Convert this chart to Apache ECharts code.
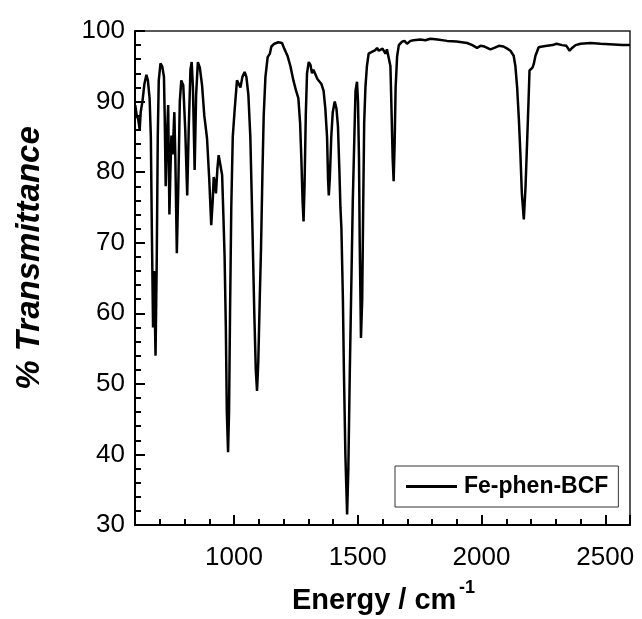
<!DOCTYPE html>
<html>
<head>
<meta charset="utf-8">
<title>Fe-phen-BCF IR</title>
<script src="https://cdn.jsdelivr.net/npm/echarts@6.0.0/dist/echarts.min.js"></script>
<style>
  html, body { margin: 0; padding: 0; background: #fff; }
  #chart { width: 642px; height: 619px; }
</style>
</head>
<body>
<div id="chart"></div>
<script>
// wavenumber (cm-1)
var energy = [601, 607, 613, 619, 623, 630, 638, 646, 652, 659, 664, 668, 673, 677, 683, 688, 692, 696, 703, 710,
	717, 720, 724, 728, 734, 739, 743, 747, 752, 759, 763, 769, 775, 781, 787, 795, 803, 811, 817, 824,
	829, 834, 841, 847, 854, 862, 871, 880, 891, 900, 908, 914, 918, 923, 927, 933, 938, 945, 952, 957,
	962, 967, 971, 976, 980, 984, 989, 995, 1003, 1012, 1020, 1026, 1034, 1043, 1050, 1058, 1066, 1072, 1077, 1082,
	1088, 1093, 1098, 1104, 1109, 1115, 1120, 1127, 1136, 1145, 1151, 1163, 1179, 1194, 1203, 1216, 1228, 1240, 1251, 1260,
	1267, 1272, 1277, 1281, 1285, 1290, 1295, 1302, 1309, 1315, 1321, 1329, 1337, 1345, 1353, 1362, 1369, 1376, 1380, 1383,
	1387, 1393, 1399, 1407, 1414, 1420, 1426, 1430, 1434, 1440, 1444, 1450, 1457, 1462, 1468, 1474, 1480, 1487, 1491, 1497,
	1501, 1505, 1508, 1513, 1518, 1522, 1526, 1531, 1537, 1544, 1555, 1563, 1571, 1578, 1585, 1592, 1600, 1605, 1612, 1618,
	1625, 1632, 1637, 1641, 1645, 1649, 1653, 1659, 1666, 1679, 1689, 1699, 1713, 1726, 1753, 1773, 1794, 1822, 1861, 1899,
	1942, 1963, 1982, 1996, 2012, 2036, 2052, 2070, 2089, 2104, 2117, 2130, 2137, 2144, 2151, 2157, 2163, 2171, 2178, 2184,
	2190, 2194, 2200, 2206, 2211, 2218, 2231, 2246, 2265, 2287, 2303, 2326, 2343, 2356, 2366, 2380, 2400, 2441, 2481, 2535,
	2570, 2600];
// % transmittance
var transmittance = [89.5, 88, 87.5, 86, 88.5, 90, 92.5, 93.8, 93, 90.5, 85, 72, 58, 66, 54, 68, 85, 93, 95.4, 95,
	93.5, 88, 78, 84, 89.5, 74, 80, 85.2, 82.5, 88.5, 82, 68.5, 78, 90, 93, 92.3, 86, 76.7, 86, 94.5,
	95.6, 92, 80.3, 91, 95.6, 94.8, 92.3, 88, 84.8, 79, 72.5, 76, 79.3, 78.5, 77, 80.5, 82.4, 81, 79.6, 74,
	68, 58, 46, 40.3, 46, 60, 75, 85, 89, 93, 93.2, 92, 93.5, 94.2, 93.5, 91, 85, 76, 68, 60,
	52, 49, 53, 62, 69, 80, 88, 93.5, 96.3, 96.8, 97.8, 98.2, 98.4, 98.3, 97.5, 96.5, 95, 93, 91.5, 90.5,
	87, 82, 76, 73, 78, 88, 94, 95.6, 95.2, 94, 94.5, 94.3, 93.2, 93, 92.5, 91.5, 89, 85, 79, 76.7,
	79, 85, 88.5, 90, 89, 86.5, 80, 75, 72, 62, 52, 40, 31.5, 38, 52, 64, 76, 86, 91.5, 92.8,
	90, 82, 70, 56.5, 62, 75, 87, 92, 95, 96.8, 97, 96.8, 97.3, 97.6, 97.2, 97, 97.5, 97.3, 96.8, 97.4,
	97.3, 95, 88, 82, 78.7, 84, 92, 96.4, 98, 98.5, 98.6, 98.2, 98.6, 98.7, 98.8, 98.7, 98.9, 98.8, 98.6, 98.5,
	98.3, 98, 97.6, 97.9, 97.8, 97.4, 97.6, 97.9, 97.8, 97.5, 97.2, 96.5, 95, 92, 87.5, 82.7, 77, 73.3, 78, 84,
	90, 94.4, 94.6, 94.8, 95.3, 96.5, 97.7, 97.8, 97.9, 98, 98.2, 98, 97.9, 97.2, 97.6, 98, 98.2, 98.3, 98.2, 98.1,
	98, 98];
var seriesName = 'Fe-phen-BCF';

var xMin = 600, xMax = 2600, xMajorStart = 1000;
var yMin = 30, yMax = 100;

var fontFam = 'Liberation Sans, Arial, Helvetica, sans-serif';
var points = [];
for (var i = 0; i < energy.length; i++) {
	points.push([energy[i], transmittance[i]]);
}

// 绘图区像素
var plotLeft = 135, plotRight = 12, plotTop = 31, plotBottom = 94;
var plotW = 642 - plotLeft - plotRight;
var plotH = 619 - plotTop - plotBottom;
// 长刻度用的第二个grid，从1000开始
var majorLeft = plotLeft + (xMajorStart - xMin) / (xMax - xMin) * plotW;

var myChart = echarts.init(document.getElementById('chart'));

var option = {
	animation: false,
	grid: [
		{ left: plotLeft, top: plotTop, right: plotRight, bottom: plotBottom },
		{ left: majorLeft, top: plotTop, right: plotRight, bottom: plotBottom }
	],
	legend: {
		left: 395,
		top: 466,
		orient: 'horizontal',
		padding: [9, 10, 9, 11],
		borderColor: '#333',
		borderWidth: 1,
		itemWidth: 51,
		itemHeight: 3,
		data: [{ name: seriesName, icon: 'rect' }],
		textStyle: { fontFamily: fontFam, fontSize: 23, fontWeight: 'bold', color: '#000', padding: [0, 0, 0, 2] }
	},
	xAxis: [
		{
			type: 'value', gridIndex: 0, min: xMin, max: xMax, interval: 100,
			splitLine: { show: false },
			axisLine: { show: true, onZero: false, lineStyle: { color: '#000', width: 2 } },
			axisTick: { show: true, inside: true, length: 6, lineStyle: { color: '#000', width: 2 } },
			axisLabel: {
				margin: 20, fontFamily: fontFam, fontSize: 26, color: '#000',
				formatter: function (v) { return v % 500 === 0 ? String(v) : ''; }
			}
		},
		{
			// 主刻度（长）
			type: 'value', gridIndex: 1, min: xMajorStart, max: xMax, interval: 500,
			splitLine: { show: false }, axisLabel: { show: false },
			axisLine: { show: false, onZero: false },
			axisTick: { show: true, inside: true, length: 10, lineStyle: { color: '#000', width: 2 } }
		}
	],
	yAxis: [
		{
			type: 'value', gridIndex: 0, min: yMin, max: yMax, interval: 10,
			splitLine: { show: false },
			axisLine: { show: true, onZero: false, lineStyle: { color: '#000', width: 2 } },
			axisTick: { show: true, inside: true, length: 10, lineStyle: { color: '#000', width: 2 } },
			minorTick: { show: true, splitNumber: 5, length: 6, lineStyle: { color: '#000', width: 2 } },
			axisLabel: { margin: 10, fontFamily: fontFam, fontSize: 26, color: '#000' }
		},
		{ type: 'value', gridIndex: 1, min: yMin, max: yMax, show: false }
	],
	graphic: [
		{
			// 上、右边框
			type: 'rect',
			shape: { x: plotLeft, y: plotTop, width: plotW, height: plotH },
			style: { fill: null, stroke: '#222', lineWidth: 1.5 },
			silent: true
		},
		{
			type: 'text',
			x: 30,
			y: 258,
			rotation: Math.PI / 2,
			style: {
				text: '% Transmittance',
				fontFamily: fontFam,
				fontSize: 33,
				fontWeight: 'bold',
				fontStyle: 'italic',
				fill: '#000',
				align: 'center',
				verticalAlign: 'middle'
			}
		},
		{
			type: 'text',
			x: 292,
			y: 601,
			style: {
				text: 'Energy / cm',
				fontFamily: fontFam,
				fontSize: 29,
				fontWeight: 'bold',
				fill: '#000',
				align: 'left',
				verticalAlign: 'middle'
			}
		},
		{
			type: 'text',
			x: 459,
			y: 588,
			style: {
				text: '-1',
				fontFamily: fontFam,
				fontSize: 18,
				fontWeight: 'bold',
				fill: '#000',
				align: 'left',
				verticalAlign: 'middle'
			}
		}
	],
	series: [
		{
			name: seriesName,
			type: 'line',
			xAxisIndex: 0,
			yAxisIndex: 0,
			data: points,
			showSymbol: false,
			symbol: 'none',
			lineStyle: { color: '#000', width: 2.5 },
			itemStyle: { color: '#000' }
		}
	]
};
myChart.setOption(option);
</script>
</body>
</html>
